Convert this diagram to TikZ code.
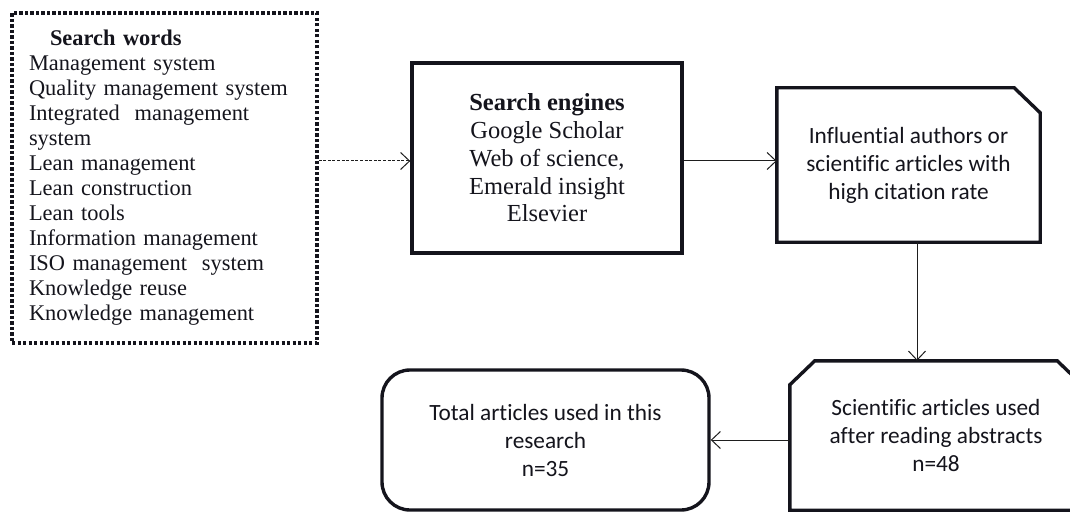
\documentclass[tikz,border=0pt]{standalone}
\usepackage{fontspec}
\setmainfont{Liberation Serif}
\newfontfamily\bodySans[Ligatures=NoCommon]{Carlito}
\usetikzlibrary{arrows.meta}
\definecolor{primaryColor}{RGB}{20, 20, 28}
\definecolor{edgeColor}{RGB}{30, 30, 30}
\tikzset{
    word_box/.style={
        draw=primaryColor,
        line width=3.2pt,
        dash pattern=on 3.2pt off 2.3pt,
        minimum width=305pt,
        minimum height=330pt,
        inner xsep=17pt,
        text width=271pt,
        align=left,
        text=primaryColor,
        font=\fontsize{22.4}{25}\selectfont
    },
    engine_box/.style={
        draw=primaryColor,
        line width=3.4pt,
        minimum width=270pt,
        minimum height=190pt,
        align=center,
        text=primaryColor,
        font=\fontsize{24.5}{27.7}\selectfont
    },
    flow_text/.style={
        align=center,
        text=primaryColor,
        font=\bodySans\fontsize{23.3}{28}\selectfont
    },
    flow_line/.style={
        draw=primaryColor,
        line width=3.4pt
    },
    total_box/.style={
        flow_text,
        flow_line,
        rounded corners=28pt,
        minimum width=327pt,
        minimum height=140pt
    },
    flow_edge/.style={
        -{Straight Barb[length=9pt, width=17pt, line width=1pt]},
        line width=1pt,
        draw=edgeColor
    },
    dash_edge/.style={
        flow_edge,
        dash pattern=on 3pt off 1.6pt
    }
}
\begin{document}
\begin{tikzpicture}[x=1pt, y=-1pt]
    \useasboundingbox (0,0) rectangle (1070,513);
    \clip (0,0) rectangle (1070,513);
    \coordinate (lvl) at (0,161);
    \coordinate (drop) at (917,0);

    \node[word_box] (words) at (164.5,178) {%
        \hspace*{21pt}\textbf{Search words}\\
        Management system\\
        Quality management system\\
        Integrated\ \ management\\
        system\\
        Lean management\\
        Lean construction\\
        Lean tools\\
        Information management\\
        ISO management\ \ system\\
        Knowledge reuse\\
        Knowledge management};

    \node[engine_box] (engines) at (547,158) {%
        \textbf{Search engines}\\
        Google Scholar\\
        Web of science,\\
        Emerald insight\\
        Elsevier};

    \node[flow_text, minimum width=263pt, minimum height=154pt] (infl) at (908.5,165) {%
        Influential authors or\\
        scientific articles with\\
        high citation rate};
    \draw[flow_line] (infl.south west) -- (infl.north west)
        -- ([xshift=-26pt]infl.north east) -- ([yshift=-25pt]infl.north east)
        -- (infl.south east) -- cycle;

    \node[flow_text, minimum width=292pt, minimum height=149pt] (abstracts) at (936,435.5) {%
        Scientific articles used\\
        after reading abstracts\\
        n=48};
    \draw[flow_line] (abstracts.south west) -- ([yshift=-24pt]abstracts.north west)
        -- ([xshift=25pt]abstracts.north west) -- ([xshift=-25pt]abstracts.north east)
        -- ([yshift=-24pt]abstracts.north east) -- (abstracts.south east) -- cycle;

    \node[total_box] (total) at (545.5,440) {%
        Total articles used in this\\
        research\\
        n=35};

    \draw[dash_edge] (words.east |- lvl) -- (engines.west |- lvl);
    \draw[flow_edge] (engines.east |- lvl) -- (infl.west |- lvl);
    \draw[flow_edge] (infl.south -| drop) -- (abstracts.north -| drop);
    \draw[flow_edge] (abstracts.west |- total.east) -- (total.east);
\end{tikzpicture}
\end{document}
